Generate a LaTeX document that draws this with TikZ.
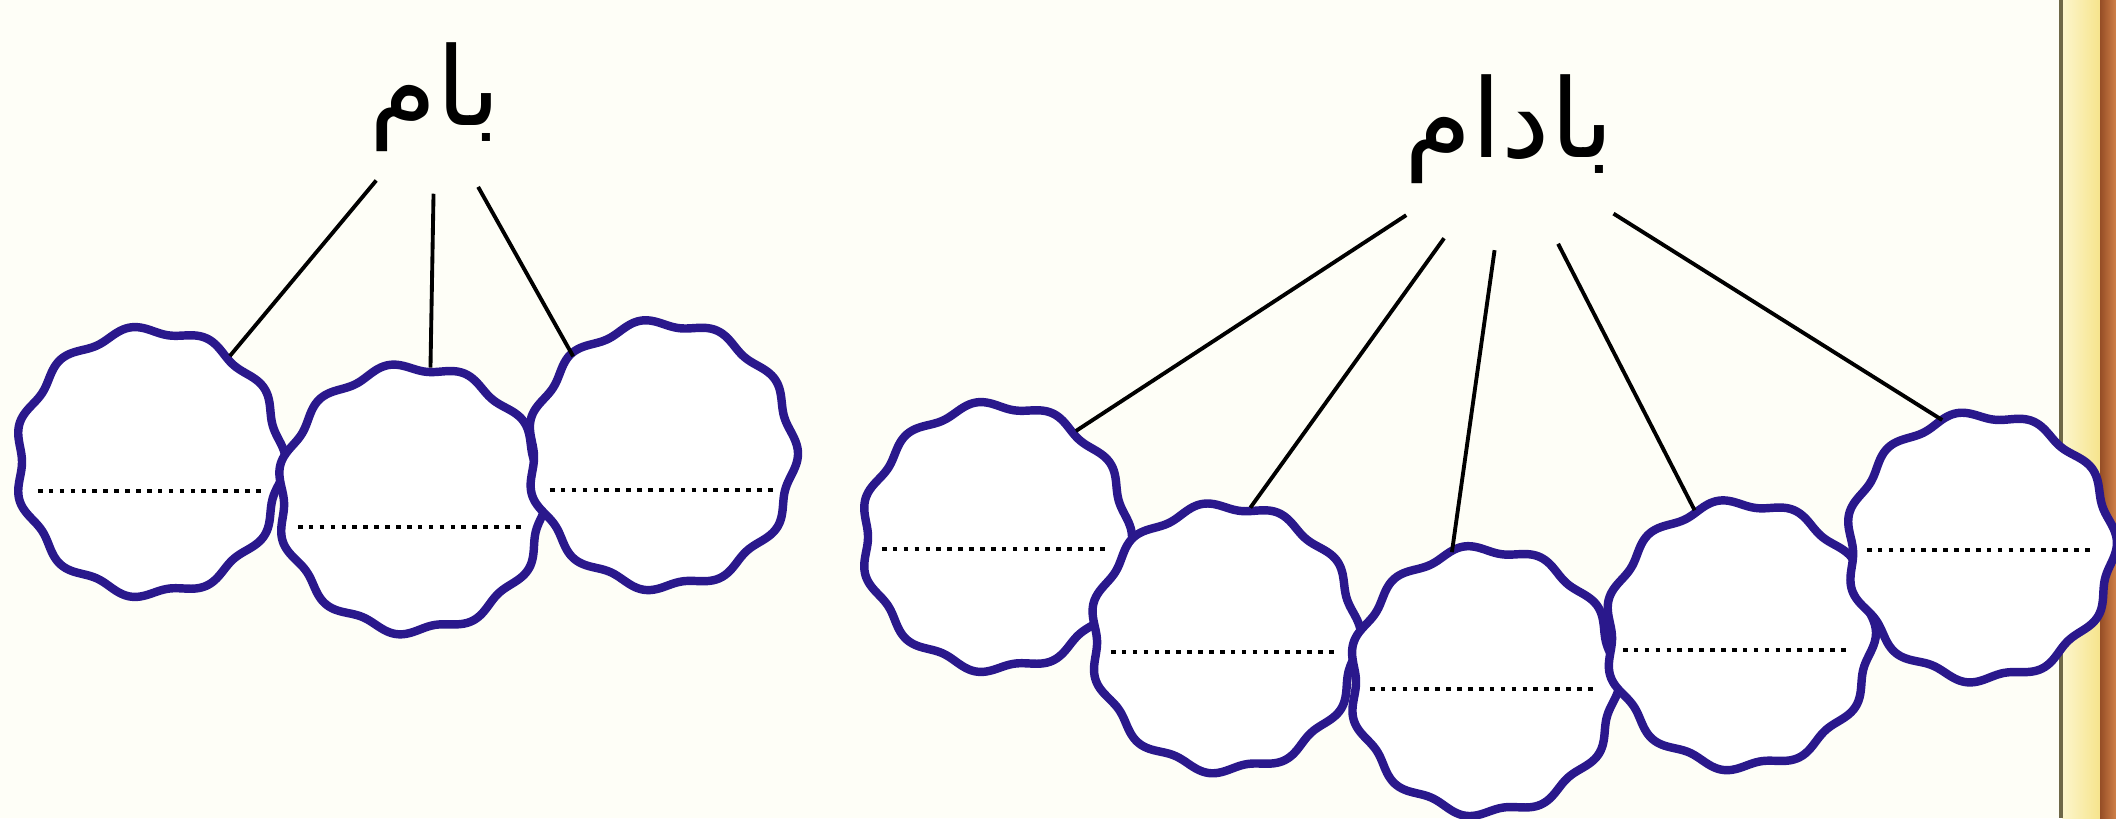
\documentclass[tikz,border=0pt]{standalone}
\usepackage{fontspec}
\newfontfamily\arabicfont[Script=Arabic]{DejaVu Sans}
\TeXXeTstate=1
\usetikzlibrary{shapes.geometric}
\definecolor{bubbleblue}{RGB}{42,24,140}
\definecolor{pagebg}{RGB}{254,254,247}
\definecolor{frameline}{RGB}{110,104,72}
\definecolor{framepale}{RGB}{252,246,205}
\definecolor{frameyellow}{RGB}{246,228,140}
\definecolor{framedark}{RGB}{150,78,38}
\definecolor{framebrown}{RGB}{208,128,72}

\begin{document}
\begin{tikzpicture}[x=0.01cm, y=-0.01cm,
  bubble/.style={circle, minimum size=2.64cm, inner sep=0pt},
  scallop/.style={draw=bubbleblue, line width=2.4pt, fill=white, line join=round},
  word/.style={ellipse, inner sep=0pt, text depth=0pt, font=\arabicfont\fontsize{31}{36}\selectfont},
  link/.style={black, line width=1.1pt},
  blank/.style={black, line width=1.3pt, dash pattern=on 1.3pt off 1.8pt}]
  \useasboundingbox (0,0) rectangle (2116,818);
  \fill[pagebg] (0,0) rectangle (2116,818);
  \shade[left color=framepale, right color=frameyellow] (2062,0) rectangle (2100,818);
  \shade[left color=framedark, right color=framebrown] (2100,0) rectangle (2116,818);
  \draw[frameline, line width=1pt] (2061,0) -- (2061,818);

  \node[word, minimum width=2.16cm, minimum height=1.66cm, text height=0.30cm] (bam) at (435,110) {\makebox[0pt]{\beginR بام\endR}};
  \node[word, minimum width=2.7cm, minimum height=2.04cm, text height=0.18cm] (badam) at (1509,148) {\makebox[0pt]{\beginR بادام\endR}};

  \node[bubble] (L1) at (150,462) {};
  \node[bubble] (L2) at (412,499) {};
  \node[bubble] (L3) at (662,455) {};
  \node[bubble] (R1) at (996,537) {};
  \node[bubble] (R2) at (1225,638) {};
  \node[bubble] (R3) at (1484,681) {};
  \node[bubble] (R4) at (1740,635) {};
  \node[bubble] (R5) at (1981,547) {};

  \draw[scallop, shift={(L1)}] plot[domain=0:360, samples=331] (\x:{132+4*cos(11*\x)}) -- cycle;
  \draw[scallop, shift={(L2)}] plot[domain=0:360, samples=331] (\x:{132+4*cos(11*\x+20)}) -- cycle;
  \draw[scallop, shift={(L3)}] plot[domain=0:360, samples=331] (\x:{132+4*cos(11*\x+8)}) -- cycle;
  \draw[scallop, shift={(R1)}] plot[domain=0:360, samples=331] (\x:{132+4*cos(11*\x)}) -- cycle;
  \draw[scallop, shift={(R2)}] plot[domain=0:360, samples=331] (\x:{132+4*cos(11*\x+16)}) -- cycle;
  \draw[scallop, shift={(R3)}] plot[domain=0:360, samples=331] (\x:{132+4*cos(11*\x+4)}) -- cycle;
  \draw[scallop, shift={(R4)}] plot[domain=0:360, samples=331] (\x:{132+4*cos(11*\x+12)}) -- cycle;
  \draw[scallop, shift={(R5)}] plot[domain=0:360, samples=331] (\x:{132+4*cos(11*\x+24)}) -- cycle;

  \draw[blank] ([xshift=-1.12cm, yshift=-0.29cm]L1.center) -- ([xshift=1.16cm, yshift=-0.29cm]L1.center);
  \draw[blank] ([xshift=-1.14cm, yshift=-0.28cm]L2.center) -- ([xshift=1.14cm, yshift=-0.28cm]L2.center);
  \draw[blank] ([xshift=-1.12cm, yshift=-0.35cm]L3.center) -- ([xshift=1.16cm, yshift=-0.35cm]L3.center);
  \draw[blank] ([xshift=-1.14cm, yshift=-0.12cm]R1.center) -- ([xshift=1.14cm, yshift=-0.12cm]R1.center);
  \draw[blank] ([xshift=-1.14cm, yshift=-0.14cm]R2.center) -- ([xshift=1.14cm, yshift=-0.14cm]R2.center);
  \draw[blank] ([xshift=-1.14cm, yshift=-0.08cm]R3.center) -- ([xshift=1.14cm, yshift=-0.08cm]R3.center);
  \draw[blank] ([xshift=-1.17cm, yshift=-0.15cm]R4.center) -- ([xshift=1.10cm, yshift=-0.15cm]R4.center);
  \draw[blank] ([xshift=-1.14cm, yshift=-0.03cm]R5.center) -- ([xshift=1.14cm, yshift=-0.03cm]R5.center);

  \draw[link] (bam) -- (L1.53);
  \draw[link] (bam) -- (L2.82);
  \draw[link] (bam) -- (L3.132);
  \draw[link] (badam) -- (R1.53);
  \draw[link] (badam) -- (R2.79);
  \draw[link] (badam) -- (R3.104);
  \draw[link] (badam) -- (R4.110);
  \draw[link] (badam) -- (R5.107);
\end{tikzpicture}
\end{document}
